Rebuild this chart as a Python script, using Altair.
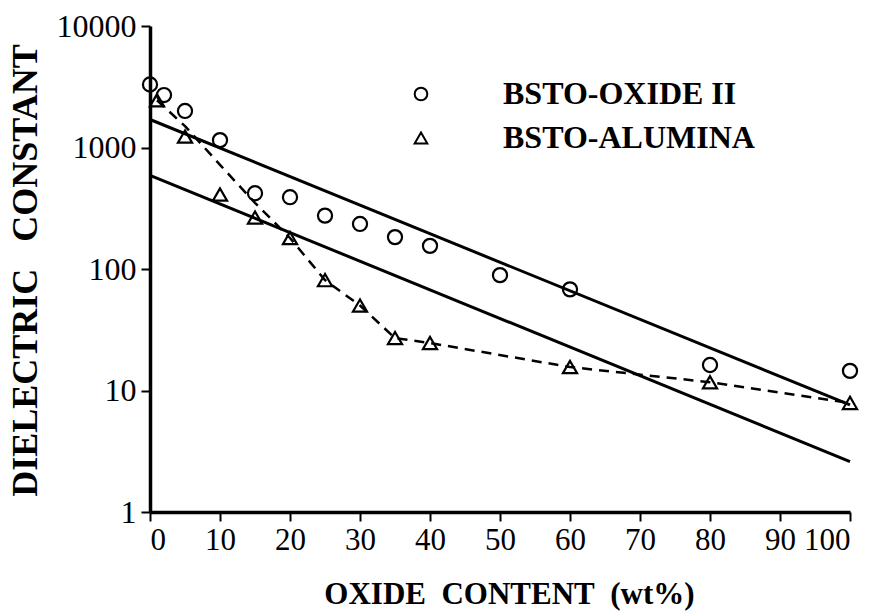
import altair as alt
import pandas as pd

# BSTO-OXIDE II (circles)
oxide_x = [0, 2, 5, 10, 15, 20, 25, 30, 35, 40, 50, 60, 80, 100]
oxide_y = [3300, 2700, 2000, 1150, 420, 390, 275, 235, 183, 155, 89, 68, 16.2, 14.5]
# BSTO-ALUMINA (triangles)
alumina_x = [1, 5, 10, 15, 20, 25, 30, 35, 40, 60, 80, 100]
alumina_y = [2450, 1230, 410, 265, 180, 81, 50, 27, 24.6, 15.6, 11.7, 7.9]
# hand-drawn dashed trend through alumina
dash_x = [1, 5, 10, 15, 20, 25, 30, 35, 40, 60, 80, 100]
dash_y = [2450, 1500, 720, 350, 180, 81, 50, 27, 24.6, 15.6, 11.7, 7.9]
# two straight (exponential) fit lines
fit_x = [0, 100]
fit_upper = [1700, 7.6]
fit_lower = [590, 2.6]

series_names = ["BSTO-OXIDE II", "BSTO-ALUMINA"]
x_ticks = list(range(0, 101, 10))
y_ticks = [1, 10, 100, 1000, 10000]

pts = pd.DataFrame(
    {"x": oxide_x + alumina_x,
     "y": oxide_y + alumina_y,
     "series": [series_names[0]] * len(oxide_x) + [series_names[1]] * len(alumina_x)}
)
dash = pd.DataFrame({"x": dash_x, "y": dash_y})
fits = pd.DataFrame(
    {"x": fit_x + fit_x, "y": fit_upper + fit_lower,
     "fit": ["upper"] * 2 + ["lower"] * 2}
)

FONT = "Liberation Serif"

xs = alt.Scale(domain=[0, 100], nice=False, zero=False)
ys = alt.Scale(type="log", domain=[1, 10000], nice=False)

x_axis = alt.Axis(
    values=x_ticks, title="OXIDE\u00a0\u00a0CONTENT\u00a0\u00a0(wt%)",
    titleX=359, titleY=91, titleBaseline="alphabetic", titleAnchor="middle",
    titleFontSize=31, labelPadding=4, labelFontSize=31,
)
y_axis = alt.Axis(
    values=y_ticks, format="d",
    title="DIELECTRIC\u00a0\u00a0\u00a0CONSTANT",
    titleX=-114, titleY=244, titleAngle=-90, titleBaseline="alphabetic",
    titleAnchor="middle", titleFontSize=36, labelPadding=5,
)

fit_layer = alt.Chart(fits).mark_line(color="black", strokeWidth=3).encode(
    x=alt.X("x:Q", scale=xs, axis=x_axis),
    y=alt.Y("y:Q", scale=ys, axis=y_axis),
    detail="fit:N",
)

dash_layer = alt.Chart(dash).mark_line(
    color="black", strokeWidth=2.5, strokeDash=[10, 7]
).encode(
    x=alt.X("x:Q", scale=xs),
    y=alt.Y("y:Q", scale=ys),
)

pt_layer = alt.Chart(pts).mark_point(
    filled=False, color="black", strokeWidth=2.2, opacity=1, size=200
).encode(
    x=alt.X("x:Q", scale=xs),
    y=alt.Y("y:Q", scale=ys),
    shape=alt.Shape(
        "series:N",
        scale=alt.Scale(domain=series_names, range=["circle", "triangle-up"]),
        legend=alt.Legend(
            title=None, orient="none", legendX=255, legendY=52,
            labelFont=FONT, labelFontSize=32, labelFontWeight="bold",
            labelColor="black", labelOffset=66, rowPadding=12, labelLimit=500,
            symbolSize=160, symbolStrokeWidth=2, symbolStrokeColor="black",
            symbolFillColor="white", padding=0, labelBaseline="middle",
        ),
    ),
)

chart = (
    alt.layer(fit_layer, dash_layer, pt_layer)
    .properties(
        width=700, height=486, autosize=alt.AutoSizeParams(type="none"),
        padding={"left": 150, "top": 26, "right": 26, "bottom": 104},
        background="white",
    )
    .configure_view(stroke=None)
    .configure_axis(
        grid=False, domainColor="black", domainWidth=3.5, tickColor="black",
        tickWidth=2, tickSize=9, labelFont=FONT, labelFontSize=32,
        labelColor="black", titleFont=FONT, titleFontSize=29,
        titleFontWeight="bold", titleColor="black",
    )
)

chart.save("out.html", embed_options={"renderer": "svg", "actions": False})
